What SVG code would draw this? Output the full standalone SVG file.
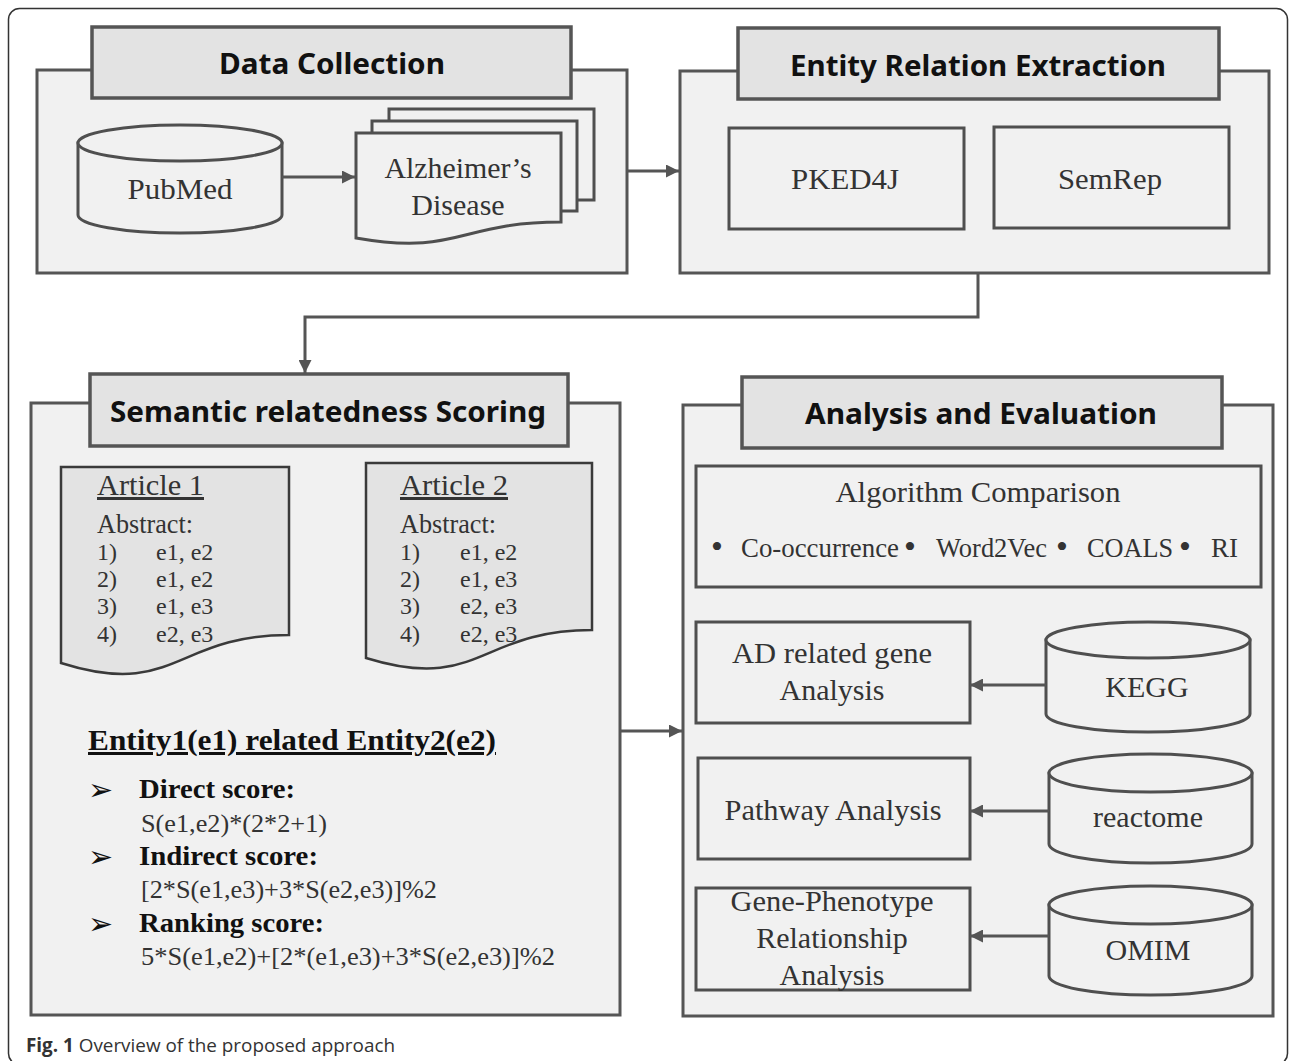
<svg xmlns="http://www.w3.org/2000/svg" width="1295" height="1061" viewBox="0 0 1295 1061">
<style>
.outer{fill:#f1f1f1;stroke:#555;stroke-width:3}
.title{fill:#e3e3e3;stroke:#555;stroke-width:3.5}
.inner{fill:#f1f1f1;stroke:#4f4f4f;stroke-width:3}
.doc{fill:#e3e3e3;stroke:#3a3a3a;stroke-width:2.5}
.doc2{fill:#f1f1f1;stroke:#4f4f4f;stroke-width:3}
.tt{font-family:"Noto Sans","Open Sans",sans-serif;font-weight:bold;font-size:29px;fill:#111;text-anchor:middle}
.s{font-family:"Liberation Serif","Times New Roman",serif;fill:#333}
.c{text-anchor:middle;font-size:30px}
.conn{fill:none;stroke:#555;stroke-width:3}
</style>
<defs>
<marker id="ah" viewBox="0 0 10 10" refX="10" refY="5" markerUnits="userSpaceOnUse" markerWidth="14" markerHeight="13" orient="auto">
<path d="M0,0 L10,5 L0,10 z" fill="#555"/>
</marker>
</defs>
<rect width="1295" height="1061" fill="#fff"/>
<rect x="8.5" y="8.5" width="1279" height="1056" rx="11" fill="none" stroke="#333" stroke-width="1.5"/>

<g id="data-collection">
<rect class="outer" x="37" y="70" width="590" height="203"/>
<rect class="title" x="92" y="27" width="479" height="71"/>
<text class="tt" x="332" y="74" textLength="226" lengthAdjust="spacingAndGlyphs">Data Collection</text>
</g>
<g id="pubmed">
<path class="doc2" d="M78,143 V215 A102,18 0 0 0 282,215 V143 Z"/>
<ellipse class="doc2" cx="180" cy="143" rx="102" ry="18"/>
<text class="s c" x="180" y="199" textLength="105" lengthAdjust="spacingAndGlyphs">PubMed</text>
</g>
<g id="alzheimers">
<rect class="doc2" x="389" y="109" width="205" height="91"/>
<rect class="doc2" x="372" y="121" width="205" height="90"/>
<path class="doc2" d="M356,133 H561 V222 C458.5,222 458.5,256 356,238 Z"/>
<text class="s c" x="458" y="178" textLength="147" lengthAdjust="spacingAndGlyphs">Alzheimer’s</text>
<text class="s c" x="458" y="215">Disease</text>
</g>

<g id="entity-relation-extraction">
<rect class="outer" x="680" y="71" width="589" height="202"/>
<rect class="title" x="738" y="28" width="481" height="71"/>
<text class="tt" x="978" y="76" textLength="376" lengthAdjust="spacingAndGlyphs">Entity Relation Extraction</text>
</g>
<g id="pked4j">
<rect class="inner" x="729" y="128" width="235" height="101"/>
<text class="s c" x="845" y="189" font-size="31" textLength="108" lengthAdjust="spacingAndGlyphs">PKED4J</text>
</g>
<g id="semrep">
<rect class="inner" x="994" y="127" width="235" height="101"/>
<text class="s c" x="1110" y="189" font-size="31" textLength="104" lengthAdjust="spacingAndGlyphs">SemRep</text>
</g>

<g id="semantic-relatedness-scoring">
<rect class="outer" x="31" y="403" width="589" height="612"/>
<rect class="title" x="90" y="374" width="478" height="72"/>
<text class="tt" x="328" y="422" textLength="436" lengthAdjust="spacingAndGlyphs">Semantic relatedness Scoring</text>
</g>
<g id="article1">
<path class="doc" d="M61,467 H289 V635 C175,635 175,699 61,663 Z"/>
<text class="s" x="97" y="495" font-size="30" text-decoration="underline" textLength="107" lengthAdjust="spacingAndGlyphs">Article 1</text>
<text class="s" x="97" y="533" font-size="27" textLength="96" lengthAdjust="spacingAndGlyphs">Abstract:</text>
<g font-size="24">
<text class="s" x="97" y="560">1)</text><text class="s" x="156" y="560">e1, e2</text>
<text class="s" x="97" y="587">2)</text><text class="s" x="156" y="587">e1, e2</text>
<text class="s" x="97" y="614">3)</text><text class="s" x="156" y="614">e1, e3</text>
<text class="s" x="97" y="642">4)</text><text class="s" x="156" y="642">e2, e3</text>
</g>
</g>
<g id="article2">
<path class="doc" d="M366,463 H592 V630 C479,630 479,693 366,658 Z"/>
<text class="s" x="400" y="495" font-size="30" text-decoration="underline" textLength="108" lengthAdjust="spacingAndGlyphs">Article 2</text>
<text class="s" x="400" y="533" font-size="27" textLength="96" lengthAdjust="spacingAndGlyphs">Abstract:</text>
<g font-size="24">
<text class="s" x="400" y="560">1)</text><text class="s" x="460" y="560">e1, e2</text>
<text class="s" x="400" y="587">2)</text><text class="s" x="460" y="587">e1, e3</text>
<text class="s" x="400" y="614">3)</text><text class="s" x="460" y="614">e2, e3</text>
<text class="s" x="400" y="642">4)</text><text class="s" x="460" y="642">e2, e3</text>
</g>
</g>
<g id="scores">
<text x="88" y="750" font-family="Liberation Serif, serif" font-weight="bold" font-size="30" fill="#111" text-decoration="underline" textLength="408" lengthAdjust="spacingAndGlyphs">Entity1(e1) related Entity2(e2)</text>
<g font-family="DejaVu Sans, sans-serif" font-size="30" fill="#111">
<text x="88" y="800">➢</text>
<text x="88" y="867">➢</text>
<text x="88" y="934">➢</text>
</g>
<g font-family="Liberation Serif, serif" font-weight="bold" font-size="28" fill="#111">
<text x="139" y="798" textLength="156" lengthAdjust="spacingAndGlyphs">Direct score:</text>
<text x="139" y="865" textLength="179" lengthAdjust="spacingAndGlyphs">Indirect score:</text>
<text x="139" y="932" textLength="185" lengthAdjust="spacingAndGlyphs">Ranking score:</text>
</g>
<g font-family="Liberation Serif, serif" font-size="26" fill="#333">
<text x="141" y="832" textLength="186" lengthAdjust="spacingAndGlyphs">S(e1,e2)*(2*2+1)</text>
<text x="141" y="898" textLength="296" lengthAdjust="spacingAndGlyphs">[2*S(e1,e3)+3*S(e2,e3)]%2</text>
<text x="141" y="965" textLength="414" lengthAdjust="spacingAndGlyphs">5*S(e1,e2)+[2*(e1,e3)+3*S(e2,e3)]%2</text>
</g>
</g>

<g id="analysis-and-evaluation">
<rect class="outer" x="683" y="405" width="590" height="611"/>
<rect class="title" x="742" y="377" width="480" height="71"/>
<text class="tt" x="981" y="424" textLength="352" lengthAdjust="spacingAndGlyphs">Analysis and Evaluation</text>
</g>
<g id="algorithm-comparison">
<rect class="inner" x="696" y="466" width="565" height="121"/>
<text class="s c" x="978" y="502" font-size="29" textLength="285" lengthAdjust="spacingAndGlyphs">Algorithm  Comparison</text>
<g font-size="27">
<text class="s" x="711" y="558" font-size="34">•</text>
<text class="s" x="741" y="557" textLength="158" lengthAdjust="spacingAndGlyphs">Co-occurrence</text>
<text class="s" x="904" y="558" font-size="34">•</text>
<text class="s" x="936" y="557" textLength="111" lengthAdjust="spacingAndGlyphs">Word2Vec</text>
<text class="s" x="1056" y="558" font-size="34">•</text>
<text class="s" x="1087" y="557" textLength="86" lengthAdjust="spacingAndGlyphs">COALS</text>
<text class="s" x="1179" y="558" font-size="34">•</text>
<text class="s" x="1211" y="557">RI</text>
</g>
</g>
<g id="ad-gene-analysis">
<rect class="inner" x="696" y="622" width="274" height="101"/>
<text class="s c" x="832" y="663" textLength="200" lengthAdjust="spacingAndGlyphs">AD related gene</text>
<text class="s c" x="832" y="700">Analysis</text>
</g>
<g id="kegg">
<path class="doc2" d="M1046,640 V714 A102,18 0 0 0 1250,714 V640 Z"/>
<ellipse class="doc2" cx="1148" cy="640" rx="102" ry="18"/>
<text class="s c" x="1147" y="697">KEGG</text>
</g>
<g id="pathway-analysis">
<rect class="inner" x="698" y="758" width="272" height="101"/>
<text class="s c" x="833" y="820" textLength="217" lengthAdjust="spacingAndGlyphs">Pathway Analysis</text>
</g>
<g id="reactome">
<path class="doc2" d="M1049,773 V844 A101.5,19 0 0 0 1252,844 V773 Z"/>
<ellipse class="doc2" cx="1150.5" cy="773" rx="101.5" ry="19"/>
<text class="s c" x="1148" y="827">reactome</text>
</g>
<g id="gene-phenotype">
<rect class="inner" x="696" y="888" width="274" height="102"/>
<text class="s c" x="832" y="911" textLength="203" lengthAdjust="spacingAndGlyphs">Gene-Phenotype</text>
<text class="s c" x="832" y="948">Relationship</text>
<text class="s c" x="832" y="985">Analysis</text>
</g>
<g id="omim">
<path class="doc2" d="M1049,905 V976 A101.5,19 0 0 0 1252,976 V905 Z"/>
<ellipse class="doc2" cx="1150.5" cy="905" rx="101.5" ry="19"/>
<text class="s c" x="1148" y="960">OMIM</text>
</g>

<g id="connectors">
<line class="conn" x1="282" y1="177" x2="355" y2="177" marker-end="url(#ah)"/>
<line class="conn" x1="627" y1="171" x2="679" y2="171" marker-end="url(#ah)"/>
<path class="conn" d="M978,273 V317 H305 V373" marker-end="url(#ah)"/>
<line class="conn" x1="620" y1="731" x2="682" y2="731" marker-end="url(#ah)"/>
<line class="conn" x1="1046" y1="685" x2="970" y2="685" marker-end="url(#ah)"/>
<line class="conn" x1="1049" y1="811" x2="970" y2="811" marker-end="url(#ah)"/>
<line class="conn" x1="1049" y1="936" x2="970" y2="936" marker-end="url(#ah)"/>
</g>

<text x="26" y="1052" font-family="Open Sans, sans-serif" font-size="19" fill="#333" textLength="369" lengthAdjust="spacingAndGlyphs"><tspan font-weight="bold">Fig. 1</tspan> Overview of the proposed approach</text>
</svg>
